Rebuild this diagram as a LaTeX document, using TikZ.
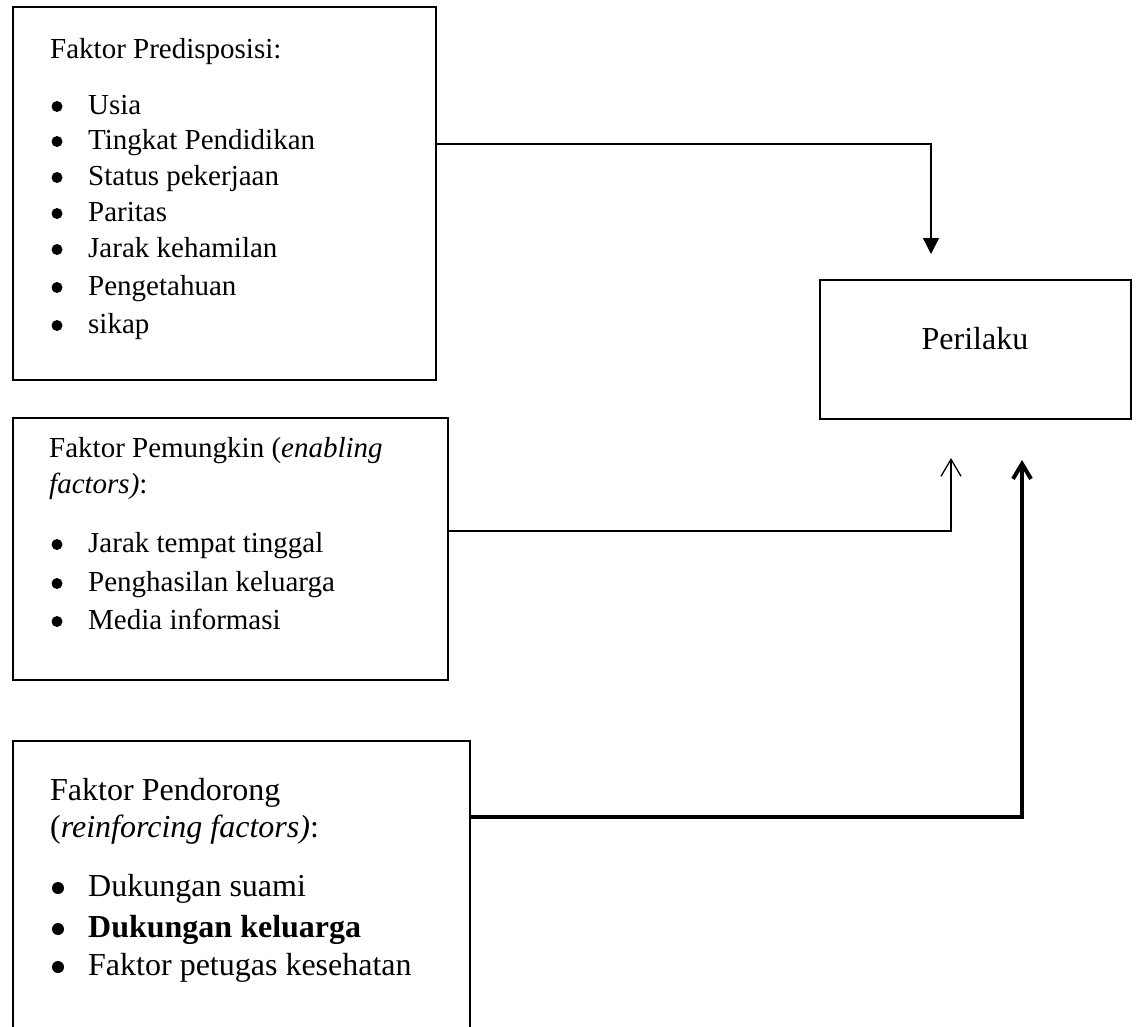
\documentclass[tikz,border=0pt]{standalone}
\usepackage{fontspec}
\setmainfont{Liberation Serif}
\usetikzlibrary{arrows.meta}
\tikzset{
  box/.style={draw, rectangle, line width=2pt, inner sep=0pt, anchor=north west},
  txta/.style={anchor=base west, inner sep=0pt, font=\fontsize{29}{35}\selectfont},
  txtb/.style={anchor=base west, inner sep=0pt, font=\fontsize{32}{38}\selectfont},
  bula/.style={circle, fill, inner sep=0pt, minimum size=11pt},
  bulb/.style={circle, fill, inner sep=0pt, minimum size=12pt},
  thinconn/.style={line width=1.3pt},
  thickconn/.style={line width=4pt},
}
\newcommand\itema[3]{\node[bula] (#1b) at (57,#2-7.5) {}; \node[txta] (#1) at (88,#2) {#3};}
\newcommand\itemb[3]{\node[bulb] (#1b) at (58,#2-8) {}; \node[txtb] (#1) at (88,#2) {#3};}
\begin{document}
\begin{tikzpicture}[x=1pt,y=-1pt]
  \fill[white, use as bounding box] (0,0) rectangle (1139,1026);

  % Box 1
  \node[box, minimum width=423pt, minimum height=373pt] (b1) at (12,6) {};
  \node[txta] (t1) at (50,58) {Faktor Predisposisi:};
  \itema{a1}{114}{Usia}
  \itema{a2}{149}{Tingkat Pendidikan}
  \itema{a3}{185}{Status pekerjaan}
  \itema{a4}{221}{Paritas}
  \itema{a5}{257}{Jarak kehamilan}
  \itema{a6}{295}{Pengetahuan}
  \itema{a7}{333}{sikap}

  % Box 2
  \node[box, minimum width=435pt, minimum height=262pt] (b2) at (12,417) {};
  \node[txta] (t2) at (49,457) {Faktor Pemungkin (\textit{enabling}};
  \node[txta] (t2b) at (49,493) {\textit{factors)}:};
  \itema{c1}{552}{Jarak tempat tinggal}
  \itema{c2}{591}{Penghasilan keluarga}
  \itema{c3}{629}{Media informasi}

  % Box 3
  \node[box, minimum width=457pt, minimum height=400pt] (b3) at (12,740) {};
  \node[txtb] (t3) at (50,800) {Faktor Pendorong};
  \node[txtb] (t3b) at (50,837) {(\textit{reinforcing factors)}:};
  \itemb{d1}{896}{Dukungan suami}
  \itemb{d2}{937}{\textbf{Dukungan keluarga}}
  \itemb{d3}{975}{Faktor petugas kesehatan}

  % Perilaku
  \node[box, line width=2.4pt, minimum width=311pt, minimum height=139pt] (per) at (819,279) {};
  \node[anchor=base, inner sep=0pt, font=\fontsize{32}{38}\selectfont] (pert) at (975,349) {Perilaku};

  % arrow ends
  \coordinate (e1) at (931,254);
  \coordinate (e2) at (951,458);
  \coordinate (e3) at (1022,460);

  \draw[thinconn, -{Triangle[width=16pt,length=16pt]}] ([yshift=-138pt]b1.north east) -| (e1);
  \draw[thinconn, -{Straight Barb[width=20pt,length=17pt]}] ([yshift=-114pt]b2.north east) -| (e2);
  \draw[thickconn, -{Straight Barb[width=18pt,length=15pt]}] ([yshift=-77pt]b3.north east) -| (e3);
\end{tikzpicture}
\end{document}
